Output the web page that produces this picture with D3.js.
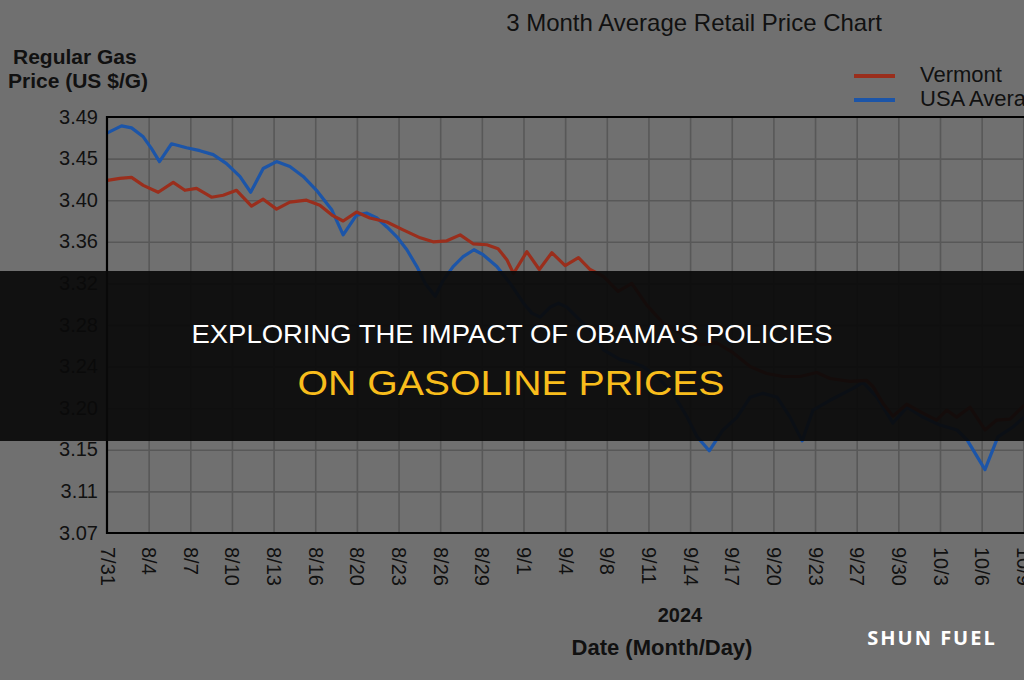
<!DOCTYPE html>
<html>
<head>
<meta charset="utf-8">
<title>3 Month Average Retail Price Chart</title>
<style>
  body { margin: 0; background: #707070; }
  svg { display: block; }
  text { font-family: "Liberation Sans", Arial, sans-serif; fill: #111; }
  .grid line { stroke: #585858; stroke-width: 1.6; }
  .grid path { display: none; }
</style>
</head>
<body>
<script src="https://cdn.jsdelivr.net/npm/d3@7"></script>
<script>

// tick labels
var xLabels = ['7/31', '8/4', '8/7', '8/10', '8/13', '8/16', '8/20', '8/23', '8/26', '8/29',
    '9/1', '9/4', '9/8', '9/11', '9/14', '9/17', '9/20', '9/23', '9/27', '9/30', '10/3', '10/6', '10/9']
var yLabels = ['3.07', '3.11', '3.15', '3.20', '3.24', '3.28', '3.32', '3.36', '3.40', '3.45', '3.49']

// series, x given in tick-slot units (0 = 7/31, 1 = 8/4, ...)
var usaX = [0.01, 0.35, 0.59, 0.87, 1.07, 1.26, 1.55, 1.91, 2.23, 2.55, 2.87, 3.19, 3.45, 3.75, 4.07,
    4.39, 4.71, 5.03, 5.40, 5.67, 5.99, 6.24, 6.48, 6.72, 6.96, 7.20, 7.44, 7.64, 7.88, 8.07, 8.31,
    8.55, 8.81, 9.03, 9.36, 9.68, 10.00, 10.20, 10.40, 10.64, 10.84, 11.04, 11.28, 11.60, 11.92,
    12.32, 12.63, 12.87, 13.20, 13.59, 13.93, 14.17, 14.46, 14.79, 15.13, 15.44, 15.75, 16.09,
    16.40, 16.69, 16.95, 17.36, 17.68, 17.91, 18.15, 18.49, 18.87, 19.21, 19.59, 20.00, 20.41,
    20.65, 21.08, 21.39, 21.75, 22.02]
var usaPrice = [3.474, 3.481, 3.479, 3.470, 3.458, 3.445, 3.463, 3.459, 3.456, 3.452, 3.443, 3.430,
    3.414, 3.438, 3.445, 3.440, 3.430, 3.416, 3.396, 3.371, 3.391, 3.393, 3.388, 3.379, 3.369,
    3.356, 3.339, 3.322, 3.309, 3.325, 3.339, 3.349, 3.356, 3.351, 3.339, 3.322, 3.302, 3.292,
    3.288, 3.298, 3.302, 3.298, 3.288, 3.275, 3.255, 3.245, 3.242, 3.238, 3.228, 3.211, 3.187,
    3.167, 3.153, 3.174, 3.187, 3.207, 3.211, 3.207, 3.187, 3.163, 3.194, 3.204, 3.211, 3.216,
    3.222, 3.207, 3.181, 3.197, 3.187, 3.179, 3.174, 3.164, 3.134, 3.167, 3.177, 3.187]

var vtX = [0.01, 0.31, 0.59, 0.87, 1.23, 1.59, 1.87, 2.15, 2.51, 2.79, 3.11, 3.47, 3.75, 4.07, 4.39,
    4.79, 5.11, 5.40, 5.67, 5.99, 6.31, 6.72, 7.11, 7.52, 7.83, 8.16, 8.48, 8.79, 9.12, 9.39, 9.60,
    9.76, 10.08, 10.38, 10.68, 11.00, 11.32, 11.60, 11.92, 12.27, 12.60, 12.96, 13.35, 13.76,
    14.24, 14.64, 15.03, 15.44, 15.84, 16.23, 16.64, 17.04, 17.36, 17.84, 18.24, 18.39, 18.63,
    18.87, 19.20, 19.59, 19.92, 20.16, 20.40, 20.72, 21.08, 21.36, 21.68, 22.02]
var vtPrice = [3.426, 3.428, 3.429, 3.421, 3.414, 3.424, 3.416, 3.418, 3.409, 3.411, 3.416, 3.400,
    3.407, 3.397, 3.404, 3.406, 3.401, 3.391, 3.385, 3.394, 3.388, 3.384, 3.376, 3.368, 3.364,
    3.365, 3.371, 3.362, 3.361, 3.357, 3.346, 3.332, 3.354, 3.336, 3.353, 3.340, 3.348, 3.336,
    3.329, 3.314, 3.322, 3.300, 3.282, 3.272, 3.260, 3.262, 3.252, 3.238, 3.231, 3.228, 3.228,
    3.232, 3.226, 3.223, 3.224, 3.218, 3.201, 3.188, 3.200, 3.191, 3.184, 3.194, 3.187, 3.197,
    3.174, 3.184, 3.185, 3.199]

var width = 1024,
    height = 680,
    slot = 41.65,
    plotLeft = 107, plotTop = 117, plotBottom = 533

var svg = d3.select('body').append('svg')
    .attr('width', width)
    .attr('height', height)

var x = d3.scaleLinear().domain([0, 24]).range([plotLeft, plotLeft + 24 * slot])
var y = d3.scaleLinear().domain([3.07, 3.49]).range([plotBottom, plotTop])

var yTicks = yLabels.map(function(d, i) {
    return 3.07 + i * (3.49 - 3.07) / (yLabels.length - 1)
})

// grid
svg.append('g')
    .attr('class', 'grid')
    .attr('transform', 'translate(0,' + plotBottom + ')')
    .call(d3.axisBottom(x).tickValues(d3.range(1, 25)).tickSize(-(plotBottom - plotTop)).tickFormat(''))
svg.append('g')
    .attr('class', 'grid')
    .attr('transform', 'translate(' + plotLeft + ',0)')
    .call(d3.axisLeft(y).tickValues(yTicks.slice(1, -1)).tickSize(-(width - plotLeft)).tickFormat(''))

// lines
var line = d3.line()
    .x(function(d) { return x(d[0]) })
    .y(function(d) { return y(d[1]) })

svg.append('path')
    .datum(d3.zip(usaX, usaPrice))
    .attr('d', line)
    .attr('fill', 'none')
    .attr('stroke', '#1c55a8')
    .attr('stroke-width', 3.2)
    .attr('stroke-linejoin', 'round')

svg.append('path')
    .datum(d3.zip(vtX, vtPrice))
    .attr('d', line)
    .attr('fill', 'none')
    .attr('stroke', '#9a2e1c')
    .attr('stroke-width', 3.2)
    .attr('stroke-linejoin', 'round')

// frame
svg.append('path')
    .attr('d', 'M' + width + ',' + plotTop + 'H' + plotLeft + 'V' + plotBottom + 'H' + width)
    .attr('fill', 'none')
    .attr('stroke', '#000')
    .attr('stroke-width', 2.2)

// y axis labels
var yAxis = svg.append('g')
    .attr('transform', 'translate(' + (plotLeft - 9) + ',0)')
    .call(d3.axisLeft(y).tickValues(yTicks).tickSize(0).tickFormat(function(d, i) { return yLabels[i] }))
yAxis.select('.domain').remove()
yAxis.selectAll('text')
    .attr('x', 0)
    .attr('dy', '0.3em')
    .style('font-size', '20px')
    .style('font-family', '"Liberation Sans", Arial, sans-serif')
    .style('fill', '#111')

// x axis labels
var xAxis = svg.append('g')
    .attr('transform', 'translate(0,' + plotBottom + ')')
    .call(d3.axisBottom(x).tickValues(d3.range(xLabels.length)).tickSize(0).tickFormat(function(d, i) { return xLabels[i] }))
xAxis.select('.domain').remove()
xAxis.selectAll('text')
    .attr('transform', 'rotate(90)')
    .attr('x', 14)
    .attr('y', 0)
    .attr('dy', '0.35em')
    .attr('text-anchor', 'start')
    .style('font-size', '20px')
    .style('font-family', '"Liberation Sans", Arial, sans-serif')
    .style('fill', '#111')

// titles
svg.append('text')
    .attr('x', 694).attr('y', 31)
    .attr('text-anchor', 'middle')
    .style('font-size', '24px')
    .text('3 Month Average Retail Price Chart')

svg.append('text')
    .attr('x', 13).attr('y', 64)
    .style('font-size', '21px').style('font-weight', 'bold')
    .text('Regular Gas')
svg.append('text')
    .attr('x', 8).attr('y', 88)
    .style('font-size', '21px').style('font-weight', 'bold')
    .text('Price (US $/G)')

svg.append('text')
    .attr('x', 680).attr('y', 622)
    .attr('text-anchor', 'middle')
    .style('font-size', '20px').style('font-weight', 'bold')
    .text('2024')
svg.append('text')
    .attr('x', 662).attr('y', 655)
    .attr('text-anchor', 'middle')
    .style('font-size', '22px').style('font-weight', 'bold')
    .text('Date (Month/Day)')

// legend
var legend = [['Vermont', '#9a2e1c'], ['USA Average', '#1c55a8']]
legend.forEach(function(d, i) {
    svg.append('line')
        .attr('x1', 854).attr('x2', 895)
        .attr('y1', 76 + i * 24).attr('y2', 76 + i * 24)
        .attr('stroke', d[1]).attr('stroke-width', 4)
    svg.append('text')
        .attr('x', 920).attr('y', 82 + i * 24)
        .style('font-size', '22px')
        .text(d[0])
})

// banner
svg.append('rect')
    .attr('x', 0).attr('y', 271)
    .attr('width', width).attr('height', 170)
    .attr('fill', 'rgba(10,10,10,0.93)')

svg.append('text')
    .attr('x', 512).attr('y', 343)
    .attr('text-anchor', 'middle')
    .attr('textLength', 641).attr('lengthAdjust', 'spacingAndGlyphs')
    .style('font-size', '26px')
    .style('fill', '#fff')
    .text("EXPLORING THE IMPACT OF OBAMA'S POLICIES")

svg.append('text')
    .attr('x', 511).attr('y', 395)
    .attr('text-anchor', 'middle')
    .attr('textLength', 427).attr('lengthAdjust', 'spacingAndGlyphs')
    .style('font-size', '35px')
    .style('fill', '#f8bd1c')
    .text('ON GASOLINE PRICES')

svg.append('text')
    .attr('x', 932).attr('y', 645)
    .attr('text-anchor', 'middle')
    .style('font-family', '"Open Sans", sans-serif')
    .style('font-size', '20px').style('font-weight', 'bold')
    .style('letter-spacing', '2px')
    .style('fill', '#fff')
    .text('SHUN FUEL')

</script>
</body>
</html>
